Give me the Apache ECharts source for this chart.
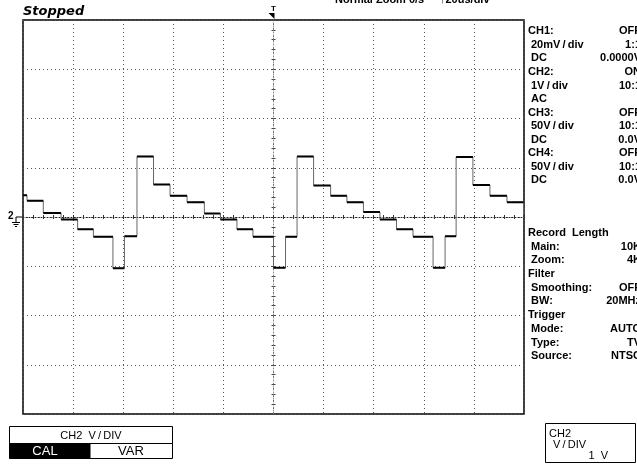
<!DOCTYPE html>
<html><head><meta charset="utf-8">
<script src="https://cdn.jsdelivr.net/npm/echarts@6/dist/echarts.min.js"></script>
<style>html,body{margin:0;padding:0;background:#fff}#c{width:637px;height:464px}</style>
</head><body><div id="c"></div>
<script>
// Time (µs, relative to trigger) where each level of the staircase begins
const stepTimes = [-100, -98.4, -91.9, -84.8, -78.2, -71.9, -64.1, -59.5, -54.5, -47.9, -41.3,
  -34.5, -27.6, -21.2, -14.6, -8.2, 0, 4.8, 9.4, 16.0, 22.8,
  29.3, 35.9, 42.5, 49.1, 55.7, 63.7, 68.5, 72.9, 79.6, 86.4, 93.2, 99.8];
// CH2 voltage (V) of each level
const stepLevels = [0.44, 0.33, 0.08, -0.05, -0.25, -0.40, -1.04, -0.39, 1.23, 0.66, 0.43,
  0.30, 0.07, -0.05, -0.25, -0.40, -1.03, -0.40, 1.23, 0.64, 0.43,
  0.30, 0.10, -0.05, -0.25, -0.40, -1.03, -0.39, 1.22, 0.65, 0.43, 0.30, 0.05];
const timeRange = [-100, 100];   // 10 div x 20 µs/div
const voltRange = [-4, 4];       // 8 div x 1 V/div

const S = '\u2009/\u2009';
const panelLeft = [
  ['CH1:', 0, 31], ['20mV' + S + 'div', 3, 45], ['DC', 3, 58],
  ['CH2:', 0, 72], ['1V' + S + 'div', 3, 86], ['AC', 3, 99],
  ['CH3:', 0, 113], ['50V' + S + 'div', 3, 126], ['DC', 3, 140],
  ['CH4:', 0, 153], ['50V' + S + 'div', 3, 167], ['DC', 3, 180],
  ['Record  Length', 0, 233], ['Main:', 3, 247], ['Zoom:', 3, 260],
  ['Filter', 0, 274], ['Smoothing:', 3, 288], ['BW:', 3, 301],
  ['Trigger', 0, 315], ['Mode:', 3, 329], ['Type:', 3, 343], ['Source:', 3, 356]
];
const panelRight = [
  ['OFF', 31], ['1:1', 45], ['0.0000V', 58], ['ON', 72], ['10:1', 86],
  ['OFF', 113], ['10:1', 126], ['0.0V', 140], ['OFF', 153], ['10:1', 167], ['0.0V', 180],
  ['10K', 247], ['4K', 260], ['OFF', 288], ['20MHz', 301], ['AUTO', 329], ['TV', 343], ['NTSC', 356]
];

const traceData = stepTimes.map((t, i) => [t, stepLevels[i]]);
traceData.push([timeRange[1], stepLevels[stepLevels.length - 1]]);
const flatData = [];
stepTimes.forEach((t, i) => {
  const tEnd = i + 1 < stepTimes.length ? stepTimes[i + 1] : timeRange[1];
  flatData.push([t, stepLevels[i]], [tEnd, stepLevels[i]], [tEnd, '-']);
});

const FONT = 'Liberation Sans';
const gridRect = { left: 23, top: 20, width: 501, height: 394 };
const hiddenAxis = { axisLabel: { show: false }, splitLine: { show: false } };

const chart = echarts.init(document.getElementById('c'), null, { renderer: 'canvas' });

const texts = [];
panelLeft.forEach(([s, dx, y]) => texts.push({ type: 'text', x: 528 + dx, y: y,
  style: { text: s, font: 'bold 11px ' + FONT, fill: '#000', verticalAlign: 'middle' } }));
panelRight.forEach(([s, y]) => texts.push({ type: 'text', x: 641, y: y,
  style: { text: s, font: 'bold 11px ' + FONT, fill: '#000', align: 'right', verticalAlign: 'middle' } }));

const option = {
  animation: false,
  backgroundColor: '#fff',
  grid: [
    Object.assign({ show: true, borderColor: '#000', borderWidth: 1.5, backgroundColor: 'transparent' }, gridRect),
    Object.assign({}, gridRect),
    Object.assign({}, gridRect)
  ],
  xAxis: [
    { type: 'value', gridIndex: 0, min: timeRange[0], max: timeRange[1], interval: 20,
      axisLine: { show: false }, axisTick: { show: false }, axisLabel: { show: false },
      splitLine: { show: true, lineStyle: { color: '#555', width: 1, type: [1, 3] } } },
    Object.assign({ type: 'value', gridIndex: 1, min: timeRange[0], max: timeRange[1], interval: 4,
      axisLine: { show: true, onZero: true, lineStyle: { color: '#222', width: 1, type: [1, 2] } },
      axisTick: { show: true, inside: true, length: 2, lineStyle: { color: '#333' } } }, hiddenAxis),
    Object.assign({ type: 'value', gridIndex: 2, min: timeRange[0], max: timeRange[1], interval: 4,
      axisLine: { show: false, onZero: true },
      axisTick: { show: true, inside: false, length: 2, lineStyle: { color: '#333' } } }, hiddenAxis)
  ],
  yAxis: [
    { type: 'value', gridIndex: 0, min: voltRange[0], max: voltRange[1], interval: 1,
      axisLine: { show: false }, axisTick: { show: false }, axisLabel: { show: false },
      splitLine: { show: true, lineStyle: { color: '#555', width: 1, type: [1, 3] } } },
    Object.assign({ type: 'value', gridIndex: 1, min: voltRange[0], max: voltRange[1], interval: 0.2,
      axisLine: { show: true, onZero: true, lineStyle: { color: '#888', width: 1, type: [1, 2] } },
      axisTick: { show: true, inside: true, length: 2, lineStyle: { color: '#444' } } }, hiddenAxis),
    Object.assign({ type: 'value', gridIndex: 2, min: voltRange[0], max: voltRange[1], interval: 0.2,
      axisLine: { show: false, onZero: true },
      axisTick: { show: true, inside: false, length: 2, lineStyle: { color: '#444' } } }, hiddenAxis)
  ],
  series: [
    { type: 'line', xAxisIndex: 0, yAxisIndex: 0, step: 'end', data: traceData, showSymbol: false,
      symbol: 'none', lineStyle: { color: '#666', width: 1 }, z: 5 },
    { type: 'line', xAxisIndex: 0, yAxisIndex: 0, data: flatData, showSymbol: false, symbol: 'none',
      connectNulls: false, lineStyle: { color: '#000', width: 2 }, z: 6 }
  ],
  graphic: texts.concat([
    { type: 'text', x: 23, y: 12, style: { text: 'Stopped', font: 'italic bold 13px DejaVu Sans', fill: '#000', verticalAlign: 'middle' } },
    { type: 'text', x: 335, y: -6, style: { text: 'Normal Zoom 0/s', font: 'bold 11px ' + FONT, fill: '#000' } },
    { type: 'text', x: 440, y: -6, style: { text: '\u219120us/div', font: 'bold 11px ' + FONT, fill: '#000' } },
    // bottom-left menu
    { type: 'rect', shape: { x: 9.5, y: 426.5, width: 163, height: 32 }, style: { fill: '#fff', stroke: '#000', lineWidth: 1 } },
    { type: 'line', shape: { x1: 9.5, y1: 443.5, x2: 172.5, y2: 443.5 }, style: { stroke: '#000', lineWidth: 1 } },
    { type: 'rect', shape: { x: 9.5, y: 443.5, width: 81, height: 15 }, style: { fill: '#000' } },
    { type: 'text', x: 91, y: 435.5, style: { text: 'CH2  V' + S + 'DIV', font: '11px ' + FONT, fill: '#000', align: 'center', verticalAlign: 'middle' } },
    { type: 'text', x: 45, y: 451.5, style: { text: 'CAL', font: '13px ' + FONT, fill: '#fff', align: 'center', verticalAlign: 'middle' } },
    { type: 'text', x: 131, y: 451.5, style: { text: 'VAR', font: '13px ' + FONT, fill: '#000', align: 'center', verticalAlign: 'middle' } },
    // bottom-right box
    { type: 'rect', shape: { x: 545.5, y: 423.5, width: 90, height: 39 }, style: { fill: '#fff', stroke: '#000', lineWidth: 1 } },
    { type: 'text', x: 549, y: 434, style: { text: 'CH2', font: '11px ' + FONT, fill: '#000', verticalAlign: 'middle' } },
    { type: 'text', x: 553, y: 445, style: { text: 'V' + S + 'DIV', font: '11px ' + FONT, fill: '#000', verticalAlign: 'middle' } },
    { type: 'text', x: 608, y: 456, style: { text: '1  V', font: '11px ' + FONT, fill: '#000', align: 'right', verticalAlign: 'middle' } }
  ])
};
chart.setOption(option);

// trigger marker (time 0) and CH2 ground marker (0 V), placed via the axes
const trigX = chart.convertToPixel({ xAxisIndex: 0 }, 0);
const gndY = chart.convertToPixel({ yAxisIndex: 0 }, 0);
chart.setOption({
  graphic: option.graphic.concat([
    { type: 'text', x: trigX, y: 9, style: { text: 'T', font: 'bold 8px ' + FONT, fill: '#000', align: 'center', verticalAlign: 'middle' } },
    { type: 'polygon', shape: { points: [[trigX - 5, 13], [trigX + 1, 13], [trigX + 1, 19]] }, style: { fill: '#000' } },
    { type: 'text', x: 8, y: gndY - 1, style: { text: '2', font: 'bold 10px ' + FONT, fill: '#000', verticalAlign: 'middle' } },
    { type: 'polyline', shape: { points: [[22, gndY], [16, gndY], [16, gndY + 5]] }, style: { stroke: '#000', lineWidth: 1, fill: null } },
    { type: 'line', shape: { x1: 12, y1: gndY + 5.5, x2: 20, y2: gndY + 5.5 }, style: { stroke: '#000', lineWidth: 1 } },
    { type: 'line', shape: { x1: 13.5, y1: gndY + 7.5, x2: 18.5, y2: gndY + 7.5 }, style: { stroke: '#000', lineWidth: 1 } },
    { type: 'line', shape: { x1: 15, y1: gndY + 9.5, x2: 17, y2: gndY + 9.5 }, style: { stroke: '#000', lineWidth: 1 } }
  ])
}, { replaceMerge: ['graphic'] });
</script></body></html>
